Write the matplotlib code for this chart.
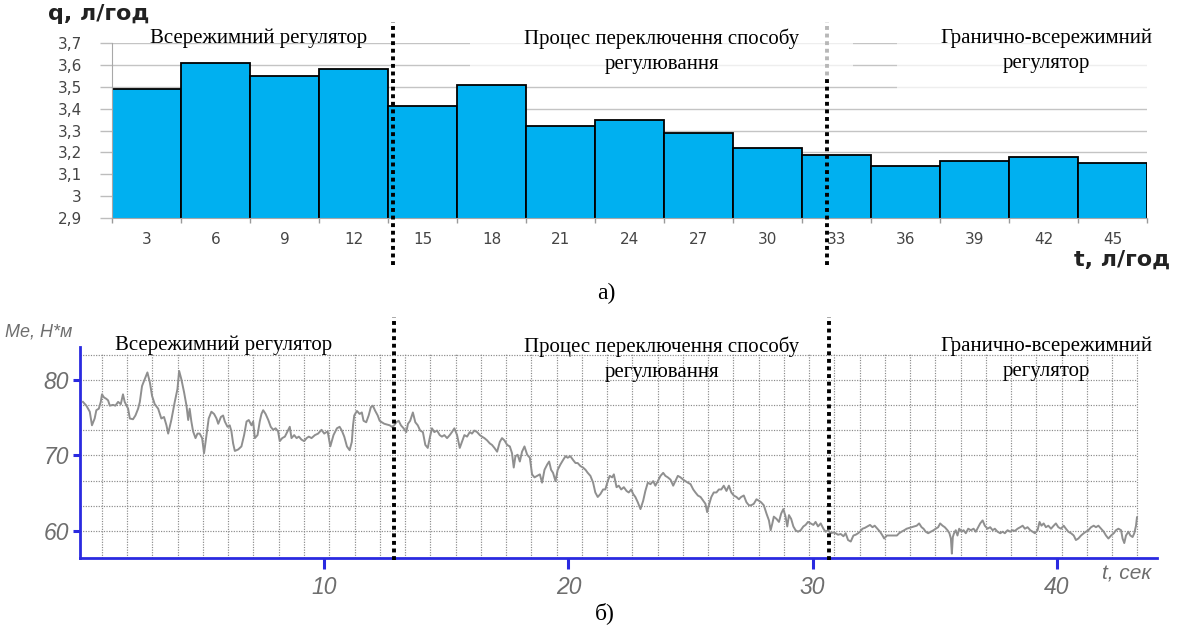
import numpy as np
import matplotlib
matplotlib.use("Agg")
import matplotlib.pyplot as plt
from matplotlib.patches import Rectangle

# ---------------- data: (а) fuel consumption per 3-unit interval ----------------
interval_t = [3, 6, 9, 12, 15, 18, 21, 24, 27, 30, 33, 36, 39, 42, 45]
fuel_q = [3.49, 3.61, 3.55, 3.58, 3.41, 3.51, 3.32, 3.35, 3.29, 3.22,
          3.19, 3.14, 3.16, 3.18, 3.15]
q_ticks = [2.9, 3.0, 3.1, 3.2, 3.3, 3.4, 3.5, 3.6, 3.7]
q_tick_labels = ["2,9", "3", "3,1", "3,2", "3,3", "3,4", "3,5", "3,6", "3,7"]
switch_a = [13.7, 32.6]

# ---------------- data: (б) engine torque trace ----------------
t_sec = [
    0.12, 0.26, 0.40, 0.49, 0.60, 0.67, 0.77, 0.85, 0.90, 0.98,
    1.08, 1.15, 1.22, 1.35, 1.45, 1.56, 1.67, 1.76, 1.83, 1.97,
    2.04, 2.17, 2.27, 2.38, 2.45, 2.54, 2.65, 2.76, 2.86, 2.95,
    3.06, 3.20, 3.33, 3.44, 3.54, 3.61, 3.74, 3.88, 3.99, 4.06,
    4.15, 4.26, 4.36, 4.43, 4.49, 4.56, 4.63, 4.73, 4.81, 4.90,
    5.00, 5.08, 5.18, 5.27, 5.38, 5.49, 5.59, 5.66, 5.77, 5.86,
    5.93, 6.04, 6.13, 6.20, 6.27, 6.34, 6.48, 6.61, 6.72, 6.82,
    6.91, 7.02, 7.09, 7.16, 7.27, 7.36, 7.43, 7.50, 7.60, 7.71,
    7.81, 7.91, 8.01, 8.11, 8.18, 8.28, 8.39, 8.50, 8.59, 8.66,
    8.77, 8.87, 8.96, 9.07, 9.18, 9.28, 9.37, 9.48, 9.62, 9.75,
    9.89, 10.00, 10.14,
    10.25, 10.38, 10.52, 10.63, 10.72, 10.82, 10.93, 11.04, 11.13, 11.18,
    11.23, 11.34, 11.45, 11.54, 11.61, 11.72, 11.82, 11.91, 11.99, 12.09,
    12.19, 12.27, 12.36, 12.46, 12.57, 12.68, 12.77, 12.87, 12.95, 13.05,
    13.14, 13.25, 13.36, 13.43, 13.52, 13.63, 13.73, 13.83, 13.93, 14.04,
    14.14, 14.24, 14.32, 14.41, 14.51, 14.62, 14.73, 14.82, 14.92, 15.03,
    15.14, 15.23, 15.33, 15.44, 15.55, 15.64, 15.74, 15.85, 15.96, 16.05,
    16.15, 16.26, 16.37, 16.46, 16.56, 16.67, 16.78, 16.87, 16.97, 17.08,
    17.19, 17.28, 17.38, 17.49, 17.60, 17.69, 17.76, 17.83, 17.92, 18.01,
    18.10, 18.20, 18.31, 18.42, 18.51, 18.61, 18.72, 18.83, 18.92, 19.02,
    19.13, 19.21, 19.29, 19.37, 19.47, 19.56, 19.67, 19.78, 19.88, 19.97,
    20.08, 20.19, 20.29, 20.38, 20.49, 20.60, 20.70, 20.79,
    20.90, 21.01, 21.10, 21.20, 21.31, 21.42, 21.51, 21.61, 21.69, 21.79,
    21.86, 21.97, 22.06, 22.16, 22.27, 22.38, 22.47, 22.57, 22.65, 22.74,
    22.84, 22.95, 23.06, 23.15, 23.25, 23.36, 23.47, 23.56, 23.66, 23.77,
    23.88, 23.97, 24.07, 24.18, 24.29, 24.38, 24.48, 24.59, 24.70, 24.79,
    24.89, 25.00, 25.11, 25.20, 25.30, 25.41, 25.52, 25.61, 25.68, 25.75,
    25.85, 25.95, 26.06, 26.16, 26.26, 26.36, 26.47, 26.57, 26.67, 26.77,
    26.88, 26.98, 27.07, 27.18, 27.29, 27.39, 27.48, 27.59, 27.70, 27.80,
    27.89, 28.00, 28.11, 28.21, 28.28, 28.35, 28.41, 28.52, 28.62, 28.71,
    28.80, 28.89, 28.96, 29.03, 29.12, 29.21, 29.30, 29.40, 29.51, 29.62,
    29.71, 29.81, 29.92, 30.03, 30.12, 30.22, 30.33, 30.44, 30.53, 30.63,
    30.74, 30.85, 30.94, 31.04, 31.15, 31.26, 31.35, 31.45, 31.56,
    31.67, 31.76, 31.86, 31.94, 32.04, 32.13, 32.24, 32.35, 32.45, 32.54,
    32.65, 32.76, 32.86, 32.93, 33.04, 33.13, 33.23, 33.34, 33.45, 33.54,
    33.64, 33.75, 33.85, 33.95, 34.05, 34.16, 34.26, 34.36, 34.46, 34.54,
    34.63, 34.73, 34.84, 34.95, 35.04, 35.14, 35.22, 35.32, 35.41, 35.52,
    35.60, 35.66, 35.70, 35.74, 35.79, 35.86, 35.93, 36.00, 36.10, 36.18,
    36.27, 36.37, 36.48, 36.59, 36.68, 36.78, 36.86, 36.96, 37.05, 37.16,
    37.27, 37.37, 37.46, 37.57, 37.68, 37.78, 37.87, 37.98, 38.09, 38.19,
    38.28, 38.39, 38.50, 38.60, 38.69, 38.80, 38.91, 39.01, 39.10, 39.21,
    39.29, 39.37, 39.46, 39.55, 39.65, 39.76, 39.87, 39.96, 40.06, 40.17,
    40.28, 40.37, 40.47, 40.58, 40.69, 40.78, 40.88, 40.99, 41.10, 41.19,
    41.29, 41.40, 41.51, 41.60, 41.70, 41.81, 41.92, 42.01, 42.11, 42.22,
    42.33, 42.42, 42.52, 42.63, 42.69, 42.76, 42.83, 42.93, 43.01, 43.10,
    43.17, 43.24, 43.28,
]
torque_me = [
    77.1, 76.6, 75.8, 74.0, 74.9, 76.0, 76.2, 77.1, 78.1, 77.7,
    77.5, 77.3, 76.6, 76.7, 76.6, 77.1, 76.8, 78.1, 77.1, 76.2,
    74.9, 74.8, 75.3, 76.2, 77.1, 79.2, 80.1, 81.0, 79.7, 77.9,
    76.8, 76.2, 74.9, 75.1, 74.0, 72.9, 74.7, 77.1, 78.8, 81.2,
    80.1, 78.4, 76.6, 74.7, 76.2, 74.5, 73.2, 72.3, 72.9, 72.9,
    72.3, 70.3, 72.7, 74.9, 75.8, 75.5, 74.9, 74.2, 75.1, 75.3,
    74.5, 73.8, 74.0, 73.2, 71.6, 70.6, 70.8, 71.2, 72.7, 74.5,
    74.7, 74.0, 74.5, 72.3, 72.7, 74.5, 75.5, 76.0, 75.5, 74.7,
    73.8, 73.4, 73.6, 73.2, 71.9, 72.3, 72.5, 73.2, 73.8, 72.3,
    72.7, 72.3, 72.5, 72.1, 71.9, 72.3, 72.5, 72.3, 72.7, 72.9,
    73.4, 72.9, 73.2,
    71.2, 72.7, 73.6, 73.8, 73.3, 72.5, 71.2, 70.7, 71.8, 74.0,
    75.3, 75.9, 75.5, 75.7, 74.6, 74.4, 75.3, 76.4, 76.6, 75.9,
    75.3, 74.6, 74.4, 74.2, 74.1, 74.0, 73.8, 74.0, 74.4, 74.6,
    74.0, 73.6, 73.1, 74.2, 74.6, 75.7, 74.4, 74.0, 73.3, 73.1,
    71.4, 71.0, 72.3, 73.6, 73.1, 73.3, 72.7, 72.5, 72.7, 72.3,
    72.7, 73.1, 73.6, 72.7, 71.0, 71.8, 72.7, 72.5, 73.1, 72.9,
    73.3, 73.1, 72.7, 72.5, 72.3, 72.0, 71.6, 71.4, 71.0, 70.5,
    71.8, 72.3, 72.0, 71.4, 71.2, 70.3, 68.4, 69.9, 70.1, 69.2,
    70.5, 71.2, 70.1, 69.7, 67.5, 67.1, 67.3, 67.5, 66.4, 68.1,
    68.8, 69.2, 68.1, 67.7, 66.6, 68.1, 68.8, 69.4, 69.9, 69.7,
    69.9, 69.4, 69.0, 69.0, 68.6, 68.4, 68.1, 67.7,
    67.3, 66.4, 65.1, 64.5, 64.9, 65.5, 65.5, 66.6, 67.3, 67.1,
    67.5, 65.8, 66.0, 65.5, 65.8, 65.3, 65.1, 65.5, 64.9, 64.5,
    63.8, 62.9, 64.0, 65.3, 66.4, 66.2, 66.6, 66.0, 66.6, 67.3,
    67.7, 67.3, 67.1, 66.8, 66.0, 66.6, 67.3, 67.1, 66.8, 66.6,
    66.4, 66.2, 65.5, 65.1, 64.7, 64.5, 64.0, 63.6, 62.5, 63.4,
    64.5, 65.1, 65.1, 65.5, 65.5, 66.0, 65.3, 66.0, 65.1, 64.7,
    64.5, 64.2, 64.5, 64.7, 63.8, 63.4, 63.4, 63.6, 64.2, 64.0,
    63.8, 63.4, 62.3, 61.4, 60.1, 61.0, 61.9, 61.6, 61.2, 62.3,
    62.9, 61.9, 60.6, 62.1, 61.6, 60.6, 60.1, 59.9, 60.1, 60.6,
    60.8, 61.2, 61.0, 60.8, 61.2, 60.6, 61.0, 60.3, 59.9, 60.1,
    59.7, 59.8, 59.7, 59.5, 59.6, 59.3, 59.7, 58.8, 58.6,
    59.4, 59.5, 59.7, 59.9, 60.3, 60.4, 60.6, 60.8, 60.5, 60.7,
    60.3, 59.9, 59.4, 59.0, 59.4, 59.4, 59.4, 59.4, 59.4, 59.7,
    59.9, 60.1, 60.3, 60.4, 60.5, 60.6, 60.7, 61.0, 60.5, 60.3,
    59.9, 59.7, 59.9, 60.1, 60.3, 60.5, 61.0, 60.7, 60.5, 60.1,
    59.7, 59.0, 57.0, 59.2, 59.7, 60.1, 59.4, 60.3, 59.9, 60.1,
    59.7, 60.3, 60.1, 60.3, 59.9, 60.5, 61.0, 61.4, 60.7, 60.3,
    60.5, 60.1, 60.3, 59.9, 59.7, 59.9, 59.7, 60.1, 59.9, 60.1,
    60.0, 60.3, 60.5, 60.7, 60.3, 60.5, 60.1, 59.9, 59.7, 60.1,
    61.2, 60.7, 61.0, 60.5, 60.7, 60.3, 60.7, 61.0, 60.5, 60.3,
    60.7, 60.3, 59.9, 59.7, 59.4, 58.8, 59.0, 59.4, 59.7, 59.9,
    60.1, 60.5, 60.7, 60.5, 60.7, 60.3, 59.9, 59.4, 59.0, 59.4,
    59.7, 60.1, 60.3, 60.1, 59.0, 58.4, 59.4, 59.9, 59.4, 59.2,
    59.7, 60.7, 61.8,
]
me_ticks = [60, 70, 80]
t_ticks = [10, 20, 30, 40]
switch_b = [12.87, 30.66]

region_titles = [
    "Всережимний регулятор",
    "Процес переключення способу\nрегулювання",
    "Гранично-всережимний\nрегулятор",
]

# ---------------- figure ----------------
W, H = 1179, 639
fig = plt.figure(figsize=(W / 100, H / 100), dpi=100)
fig.patch.set_facecolor("white")


def fx(px):
    return px / W


def fy(py):
    return 1 - py / H


SERIF = ["Liberation Serif", "DejaVu Serif"]
BAR_BLUE = "#00b0f0"
AXIS_BLUE = "#2a2ae0"
PEN_GREY = "#6e6e6e"

# ---------------- (а) bar chart ----------------
ax1 = fig.add_axes([fx(112), fy(218), fx(1147) - fx(112), fy(43) - fy(218)])
ax1.bar(interval_t, fuel_q, width=3, color=BAR_BLUE, edgecolor="black",
        linewidth=1.3, zorder=2)
ax1.set_xlim(1.5, 46.5)
ax1.set_ylim(2.9, 3.7)
ax1.set_axisbelow(True)
ax1.yaxis.grid(True, color="#c4c4c4", linewidth=1.0)
ax1.set_yticks(q_ticks)
ax1.set_yticklabels(q_tick_labels)
ax1.tick_params(axis="y", length=8.6, width=1.0, color="#bdbdbd", pad=13,
                labelsize=11, labelcolor="#454545")
ax1.set_xticks(np.arange(1.5, 46.6, 3))
ax1.set_xticklabels([])
ax1.tick_params(axis="x", which="major", length=3.6, width=1.0, color="#9a9a9a")
ax1.set_xticks(interval_t, minor=True)
ax1.set_xticklabels([str(v) for v in interval_t], minor=True)
ax1.tick_params(axis="x", which="minor", length=0, pad=10, labelsize=11,
                labelcolor="#454545")
for s in ("top", "right"):
    ax1.spines[s].set_visible(False)
ax1.spines["left"].set_color("#a8a8a8")
ax1.spines["bottom"].set_color("#a8a8a8")
for lab in ax1.get_xticklabels(minor=True) + ax1.get_yticklabels():
    lab.set_family("DejaVu Sans")

for xs in switch_a:
    ax1.plot([xs, xs], [-0.27, 1.12], transform=ax1.get_xaxis_transform(),
             color="black", linewidth=2.8, linestyle=(0, (1, 0.95)),
             clip_on=False, zorder=5)

fig.text(fx(48), fy(14), "q, л/год", fontsize=16, fontweight="bold",
         family="DejaVu Sans", color="#222222", ha="left", va="center")
fig.text(fx(1170), fy(260), "t, л/год", fontsize=16, fontweight="bold",
         family="DejaVu Sans", color="#222222", ha="right", va="center")

# pale panels behind the region captions
fig.patches.append(Rectangle((fx(470), fy(78)), fx(853) - fx(470), fy(20) - fy(78),
                             transform=fig.transFigure, facecolor="white",
                             edgecolor="none", alpha=0.72, zorder=3))
fig.patches.append(Rectangle((fx(897), fy(92)), fx(1150) - fx(897), fy(28) - fy(92),
                             transform=fig.transFigure, facecolor="white",
                             edgecolor="none", alpha=0.72, zorder=3))

fig.text(fx(259), fy(38), region_titles[0], fontsize=15, family=SERIF,
         ha="center", va="center", zorder=6)
fig.text(fx(662), fy(51), region_titles[1], fontsize=15, family=SERIF,
         ha="center", va="center", linespacing=1.45, zorder=6)
fig.text(fx(1046), fy(51), region_titles[2], fontsize=15, family=SERIF,
         ha="center", va="center", linespacing=1.45, zorder=6)
fig.text(fx(606), fy(293), "а)", fontsize=17, family=SERIF, ha="center",
         va="center")

# ---------------- (б) torque trace ----------------
ax2 = fig.add_axes([fx(80), fy(558), fx(1157) - fx(80), fy(347) - fy(558)])
ax2.set_xlim(0, 44.1)
ax2.set_ylim(56.42, 84.37)

grid_t = 0.90 + 1.034 * np.arange(42)
grid_me = 60 + 10 / 3 * np.arange(8)
ax2.vlines(grid_t, 56.42, 83.6, colors="#8a8a8a", linewidth=0.85,
           linestyles=(0, (1, 1.2)), zorder=1)
ax2.hlines(grid_me, 0, 43.3, colors="#8a8a8a", linewidth=0.85,
           linestyles=(0, (1, 1.2)), zorder=1)

ax2.plot(t_sec, torque_me, color="#8f8f8f", linewidth=1.4, zorder=3)

for s in ("top", "right"):
    ax2.spines[s].set_visible(False)
for s in ("left", "bottom"):
    ax2.spines[s].set_color(AXIS_BLUE)
    ax2.spines[s].set_linewidth(2.0)
ax2.set_yticks(me_ticks)
ax2.set_xticks(t_ticks)
ax2.tick_params(axis="y", length=5, width=2.2, color=AXIS_BLUE, pad=3,
                labelsize=16.5, labelcolor=PEN_GREY)
ax2.tick_params(axis="x", length=8, width=2.2, color=AXIS_BLUE, pad=5,
                labelsize=16.5, labelcolor=PEN_GREY)
for lab in ax2.get_xticklabels() + ax2.get_yticklabels():
    lab.set_family("Liberation Sans")
    lab.set_style("italic")

for xs in switch_b:
    ax2.plot([xs, xs], [-0.01, 1.142], transform=ax2.get_xaxis_transform(),
             color="black", linewidth=2.8, linestyle=(0, (1, 0.95)),
             clip_on=False, zorder=5)

fig.text(fx(5), fy(332), "Me, H*м", fontsize=13, family="Liberation Sans",
         style="italic", color=PEN_GREY, ha="left", va="center")
fig.text(fx(1102), fy(574), "t, сек", fontsize=15, family="Liberation Sans",
         style="italic", color=PEN_GREY, ha="left", va="center")

fig.text(fx(224), fy(345), region_titles[0], fontsize=15, family=SERIF,
         ha="center", va="center", zorder=6)
fig.text(fx(662), fy(359), region_titles[1], fontsize=15, family=SERIF,
         ha="center", va="center", linespacing=1.45, zorder=6)
fig.text(fx(1046), fy(359), region_titles[2], fontsize=15, family=SERIF,
         ha="center", va="center", linespacing=1.45, zorder=6)
fig.text(fx(605), fy(613), "б)", fontsize=17, family=SERIF, ha="center",
         va="center")

fig.savefig("out.png", dpi=100, facecolor="white")
